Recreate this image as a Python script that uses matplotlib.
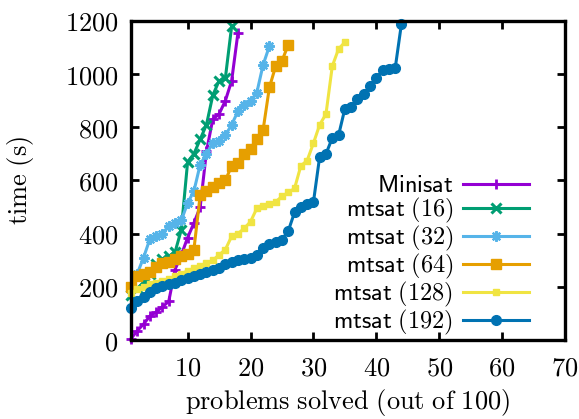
import matplotlib
matplotlib.use('Agg')
import matplotlib.pyplot as plt
import numpy as np

plt.rcParams['mathtext.fontset'] = 'cm'

# ---- data (time in seconds for the n-th solved problem) ----
minisat = [5, 35, 60, 90, 105, 125, 145, 265, 320, 385, 440, 500, 710, 830, 850,
           900, 975, 1155]
mtsat16 = [170, 195, 215, 250, 285, 305, 315, 330, 415, 670, 700, 755, 810, 920,
           975, 985, 1180]
mtsat32 = [190, 250, 310, 380, 390, 400, 430, 440, 450, 515, 560, 660, 700, 740,
           750, 770, 810, 860, 885, 900, 930, 1035, 1105]
mtsat64 = [200, 240, 250, 255, 275, 290, 295, 305, 315, 325, 340, 545, 560, 575,
           590, 600, 655, 665, 700, 720, 755, 790, 950, 1030, 1050, 1110]
mtsat128 = [175, 190, 200, 210, 215, 222, 230, 240, 250, 260, 270, 278, 290, 300,
            320, 340, 390, 400, 420, 445, 495, 505, 510, 520, 540, 555, 570, 655,
            675, 740, 810, 850, 1030, 1095, 1120]
mtsat192 = [120, 145, 160, 180, 195, 205, 210, 215, 225, 235, 240, 248, 255, 262,
            270, 285, 295, 300, 305, 310, 320, 345, 360, 370, 378, 410, 480, 500,
            510, 518, 690, 700, 760, 770, 870, 875, 905, 925, 955, 985, 1015, 1020,
            1022, 1190]

labels = ['Minisat', 'mtsat (16)', 'mtsat (32)', 'mtsat (64)', 'mtsat (128)',
          'mtsat (192)']
xticks = [10, 20, 30, 40, 50, 60, 70]
yticks = [0, 200, 400, 600, 800, 1000, 1200]

colors = ['#9400D3', '#009E73', '#56B4E9', '#E69F00', '#F0E442', '#0072B2']
markers = ['+', 'x', (8, 2, 0), 's', 's', 'o']
msizes = [6.5, 7, 7.5, 7, 5, 7]
mews = [2, 2.2, 1.6, 1, 1, 1]

def mlabel(s):
    if '(' in s:
        name, num = s.split(' ')
        return r'$\mathsf{' + name + r'}\ ' + num + '$'
    return r'$\mathsf{' + s + '}$'

fig = plt.figure(figsize=(5.79, 4.19), dpi=100)
ax = fig.add_axes([131/579, 79/419, 434/579, 319/419])

data = [minisat, mtsat16, mtsat32, mtsat64, mtsat128, mtsat192]
for vals, lab, c, m, ms, mew in zip(data, labels, colors, markers, msizes, mews):
    x = np.arange(1, len(vals) + 1)
    ax.plot(x, vals, color=c, lw=2.2, marker=m, ms=ms, mew=mew, mfc=c, mec=c,
            label=mlabel(lab), clip_on=False)

ax.set_xlim(1, 70)
ax.set_ylim(0, 1200)
fs = 19
ax.set_xticks(xticks, labels=[f'${t}$' for t in xticks])
ax.set_yticks(yticks, labels=[f'${t}$' for t in yticks])
ax.tick_params(direction='in', length=6, width=2, labelsize=fs,
               top=True, right=True)
ax.tick_params(axis='x', pad=11)
ax.tick_params(axis='y', pad=9)
for sp in ax.spines.values():
    sp.set_linewidth(2.4)

ax.set_xlabel(r'$\mathrm{problems\ solved\ (out\ of\ 100)}$', fontsize=fs, labelpad=4)
ax.set_ylabel(r'$\mathrm{time\ (s)}$', fontsize=fs, labelpad=21)

lfs = 17.5
leg = ax.legend(loc='lower right', markerfirst=False, frameon=False, fontsize=lfs,
                handlelength=2.7, handletextpad=0.4, labelspacing=-0.05,
                numpoints=1, bbox_to_anchor=(0.95, -0.035), borderaxespad=0.2)

fig.savefig('out.png', dpi=100)
